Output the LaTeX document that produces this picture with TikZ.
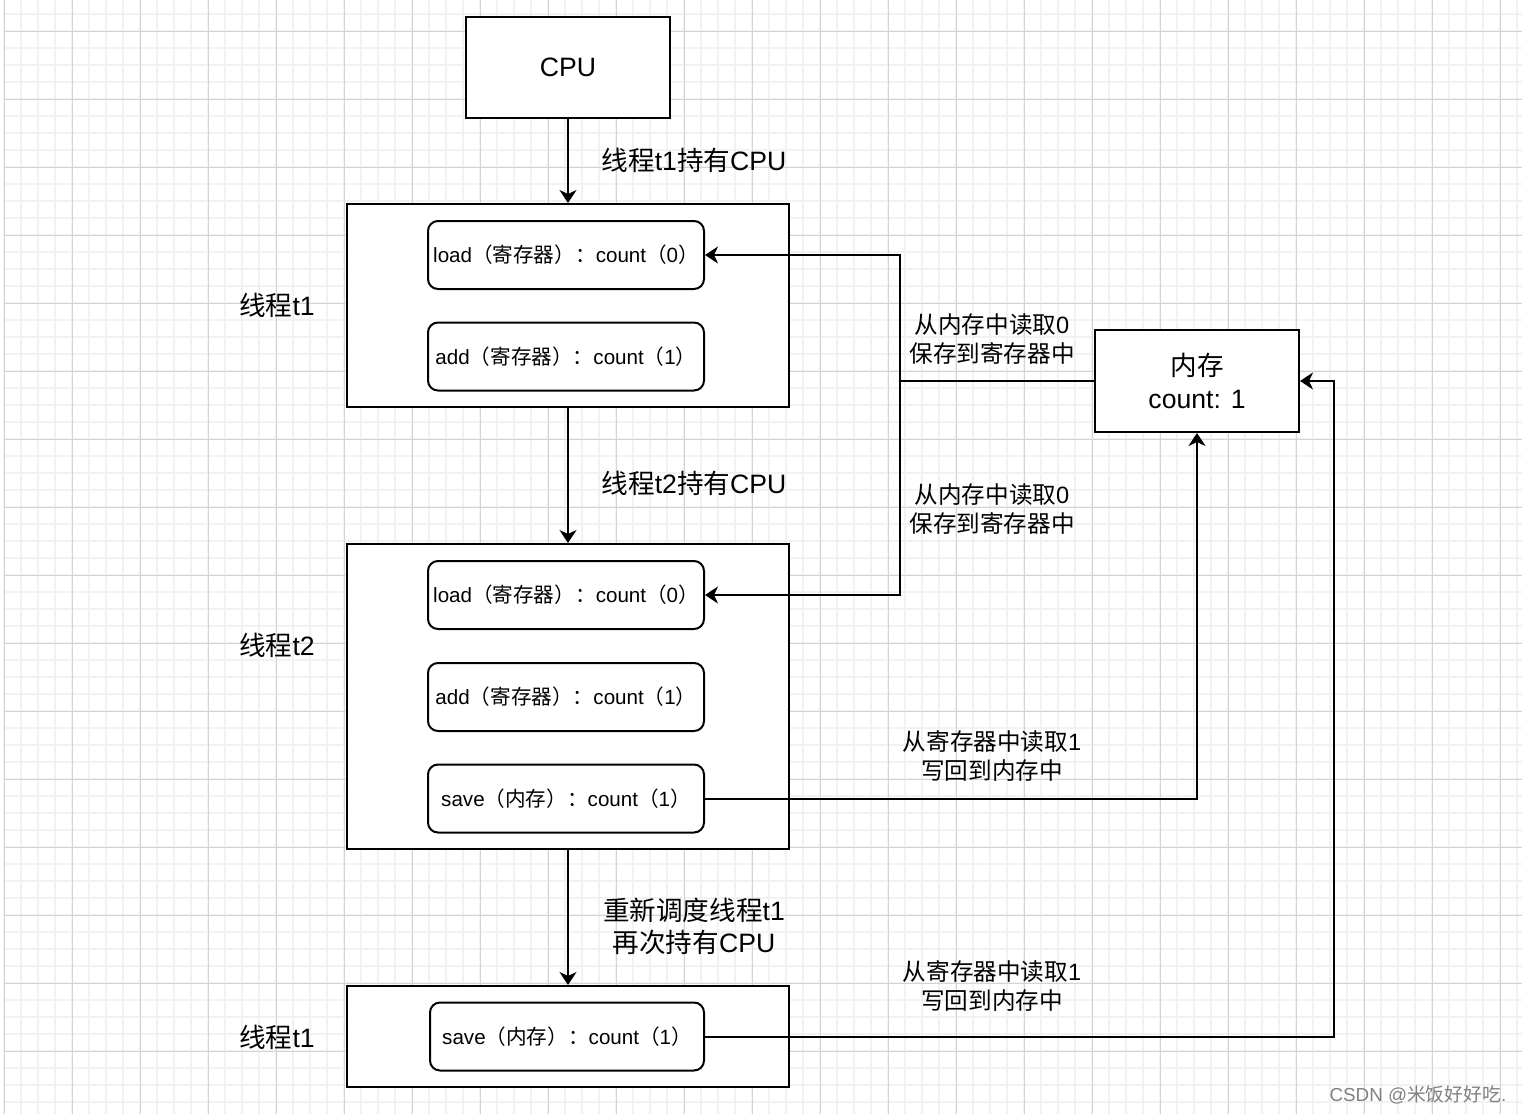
\documentclass[tikz,border=0pt]{standalone}
\usepackage{fontspec}
\setmainfont{Liberation Sans}
\newfontfamily\zhfont{Noto Sans CJK SC}
\newcommand{\zh}[1]{{\zhfont #1}}
\usetikzlibrary{arrows.meta}
\definecolor{gridlight}{HTML}{F2F2F2}
\definecolor{gridmajor}{HTML}{D4D4D4}
\tikzstyle{box} = [rectangle, draw, fill=white, line width=1pt, inner sep=0pt]
\tikzstyle{thread} = [box, minimum width=221pt]
\tikzstyle{op} = [box, rounded corners=5pt, minimum width=138pt, minimum height=34pt, font=\fontsize{10.3}{12}\selectfont]
\tikzstyle{tag} = [font=\fontsize{13.3}{16}\selectfont]
\tikzstyle{note} = [align=center, font=\fontsize{11.8}{14.5}\selectfont]
\tikzstyle{line} = [draw, line width=1pt, -{Stealth[length=6.5pt,width=8.5pt,inset=2pt]}]

\begin{document}
\begin{tikzpicture}[x=0.5pt,y=-0.5pt]
	\useasboundingbox (0,0) rectangle (1522,1114);
	\fill[white] (0,0) rectangle (1522,1114);
	% grid
	\foreach \gx in {4.3,21.3,...,1522} \draw[gridlight, line width=1pt] (\gx,0) -- (\gx,1114);
	\foreach \gy in {14.3,31.3,...,1114} \draw[gridlight, line width=1pt] (4.3,\gy) -- (1522,\gy);
	\foreach \gx in {4.3,72.3,...,1522} \draw[gridmajor, line width=0.5pt] (\gx,0) -- (\gx,1114);
	\foreach \gy in {31.3,99.3,...,1114} \draw[gridmajor, line width=0.5pt] (4.3,\gy) -- (1522,\gy);

	\node [box, minimum width=102pt, minimum height=50.5pt, font=\fontsize{13.3}{16}\selectfont] (cpu) at (568,67.5) {CPU};

	% thread t1
	\node [thread, minimum height=101.5pt] (t1) at (568,305.5) {};
	\node [op] (load1) at (566,255) {load\zh{（寄存器）：}count\zh{（}0\zh{）}};
	\node [op] (add1) at (566,356.5) {add\zh{（寄存器）：}count\zh{（}1\zh{）}};
	\node [tag] (t1name) at (277,305) {\zh{线程}t1};

	% thread t2
	\node [thread, minimum height=152.5pt] (t2) at (568,696.5) {};
	\node [op] (load2) at (566,595) {load\zh{（寄存器）：}count\zh{（}0\zh{）}};
	\node [op] (add2) at (566,697) {add\zh{（寄存器）：}count\zh{（}1\zh{）}};
	\node [op] (save2) at (566,798.5) {save\zh{（内存）：}count\zh{（}1\zh{）}};
	\node [tag] (t2name) at (277,645) {\zh{线程}t2};

	% thread t1 again
	\node [thread, minimum height=50.5pt] (t3) at (568,1036.5) {};
	\node [op, minimum width=137pt] (save3) at (567,1036.5) {save\zh{（内存）：}count\zh{（}1\zh{）}};
	\node [tag] (t3name) at (277,1037) {\zh{线程}t1};

	\node [box, minimum width=102pt, minimum height=51pt, align=center, font=\fontsize{13.3}{16.5}\selectfont] (mem) at (1197,381) {\zh{内存}\\count: 1};

	\node [tag] (hold1) at (694,160) {\zh{线程}t1\zh{持有}CPU};
	\node [tag] (hold2) at (694,483) {\zh{线程}t2\zh{持有}CPU};
	\node [tag, align=center] (hold3) at (694,926) {\zh{重新调度线程}t1\\\zh{再次持有}CPU};
	\node [note] (readA) at (992,339.5) {\zh{从内存中读取}0\\\zh{保存到寄存器中}};
	\node [note] (readB) at (992,509.5) {\zh{从内存中读取}0\\\zh{保存到寄存器中}};
	\node [note] (writeA) at (992,755.5) {\zh{从寄存器中读取}1\\\zh{写回到内存中}};
	\node [note] (writeB) at (992,985.5) {\zh{从寄存器中读取}1\\\zh{写回到内存中}};
	\node [text=gray, font=\fontsize{9.4}{11}\selectfont] (mark) at (1418,1095) {CSDN @\zh{米饭好好吃}.};

	\path[line] (cpu) -- (t1);
	\path[line] (t1) -- (t2);
	\path[line] (t2) -- (t3);
	\coordinate (split) at (900,381);
	\draw[line width=1pt] (mem.west) -- (split);
	\path[line] (split) |- (load1.east);
	\path[line] (split) |- (load2.east);
	\path[line] (save2.east) -| (mem.south);
	\path[line] (save3.east) -| ([xshift=17pt]mem.east) |- (mem.east);
\end{tikzpicture}
\end{document}
